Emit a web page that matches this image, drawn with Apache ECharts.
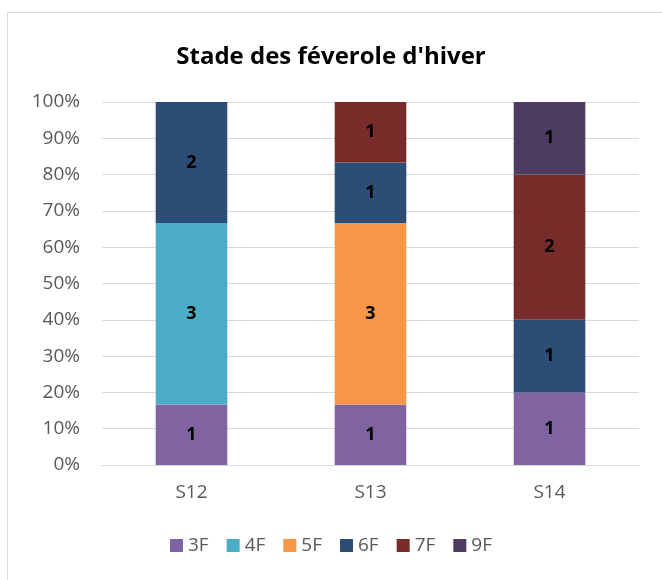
<!DOCTYPE html>
<html>
<head>
<meta charset="utf-8">
<script src="https://cdn.jsdelivr.net/npm/echarts@6/dist/echarts.min.js"></script>
<style>
html, body { margin: 0; padding: 0; background: #fff; }
#chart { width: 662px; height: 580px; }
</style>
</head>
<body>
<div id="chart"></div>
<script>
// semaines
const categories = ['S12', 'S13', 'S14'];
// nombre de parcelles par stade
const stages = ['3F', '4F', '5F', '6F', '7F', '9F'];
const counts3F = [1, 1, 1];
const counts4F = [3, 0, 0];
const counts5F = [0, 3, 0];
const counts6F = [2, 1, 1];
const counts7F = [0, 1, 2];
const counts9F = [0, 0, 1];
const yTicks = [0, 10, 20, 30, 40, 50, 60, 70, 80, 90, 100];

const colors = ['#8064A2', '#4BACC6', '#F79646', '#2C4D75', '#772C2A', '#4D3B62'];
const allCounts = [counts3F, counts4F, counts5F, counts6F, counts7F, counts9F];

// total par semaine pour le 100 %
const totals = categories.map((c, i) => allCounts.reduce((s, arr) => s + arr[i], 0));

const font = '"Open Sans", sans-serif';

let chart = echarts.init(document.getElementById('chart'));

let series = stages.map((name, k) => ({
	name: name,
	type: 'bar',
	stack: 'total',
	barWidth: '40%',
	itemStyle: { color: colors[k] },
	label: {
		show: true,
		position: 'inside',
		color: '#000',
		fontWeight: 'bold',
		fontSize: 18,
		fontFamily: font,
		formatter: p => allCounts[k][p.dataIndex] ? String(allCounts[k][p.dataIndex]) : ''
	},
	data: allCounts[k].map((v, i) => v ? v / totals[i] * 100 : null)
}));

chart.setOption({
	backgroundColor: '#fff',
	animation: false,
	title: {
		text: "Stade des féverole d'hiver",
		left: 'center',
		top: 40,
		textStyle: { fontFamily: font, fontWeight: 'bold', fontSize: 24, color: '#000' }
	},
	graphic: [{
		type: 'rect',
		shape: { x: 7.5, y: 12.5, width: 700, height: 700 },
		style: { fill: 'none', stroke: '#d9d9d9', lineWidth: 1 },
		silent: true
	}],
	legend: {
		bottom: 20,
		left: 'center',
		itemWidth: 13,
		itemHeight: 13,
		itemGap: 18,
		icon: 'rect',
		textStyle: { fontFamily: font, fontSize: 19, color: '#595959' },
		data: stages
	},
	grid: { left: 102, right: 23, top: 102, bottom: 115 },
	xAxis: {
		type: 'category',
		data: categories,
		axisLine: { lineStyle: { color: '#d9d9d9', width: 1 } },
		axisTick: { show: false },
		axisLabel: { fontFamily: font, fontSize: 19, color: '#595959', margin: 18 }
	},
	yAxis: {
		type: 'value',
		min: yTicks[0],
		max: yTicks[yTicks.length - 1],
		interval: 10,
		axisLine: { show: false },
		axisTick: { show: false },
		splitLine: { lineStyle: { color: '#d9d9d9', width: 1 } },
		axisLabel: { fontFamily: font, fontSize: 19, color: '#595959', margin: 22, formatter: '{value}%' }
	},
	series: series
});
</script>
</body>
</html>
